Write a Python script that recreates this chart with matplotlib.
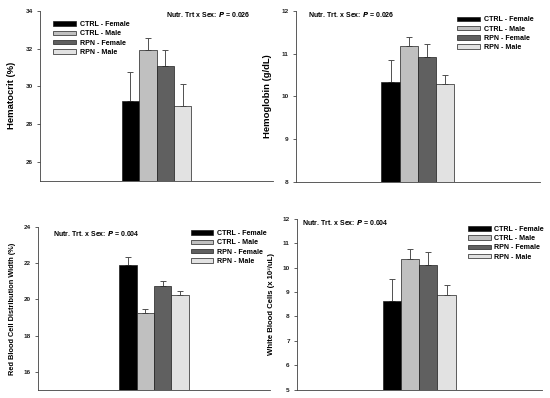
import numpy as np
import matplotlib
matplotlib.use("Agg")
import matplotlib.pyplot as plt
from matplotlib.patches import Patch

plt.rcParams["font.family"] = ["Liberation Sans", "DejaVu Sans"]
plt.rcParams["font.weight"] = "bold"

# groups / legend
groups = ["CTRL - Female", "CTRL - Male", "RPN - Female", "RPN - Male"]
colors = ["#000000", "#c0c0c0", "#606060", "#e2e2e2"]

# means and upper error-bar tops
hct_mean = [29.24, 31.93, 31.10, 28.97]
hct_top = [30.74, 32.57, 31.93, 30.12]

hgb_mean = [10.34, 11.19, 10.93, 10.29]
hgb_top = [10.85, 11.40, 11.22, 10.51]

rdw_mean = [21.90, 19.24, 20.76, 20.26]
rdw_top = [22.38, 19.48, 21.04, 20.45]

wbc_mean = [8.63, 10.33, 10.10, 8.88]
wbc_top = [9.54, 10.74, 10.64, 9.29]

W, H = 550, 398
fig = plt.figure(figsize=(5.5, 3.98), dpi=100)


def px_axes(left, right, top, bottom):
    return fig.add_axes([left / W, 1 - bottom / H, (right - left) / W, (bottom - top) / H])


def panel(ax, mean, top, ylim, yticks, ylabel, ylsize, note, note_xy, leg_xy):
    x = np.arange(len(mean))
    mean = np.array(mean)
    err = np.array(top) - mean
    ax.bar(x, mean - ylim[0], bottom=ylim[0], width=1.0, color=colors,
           edgecolor="#202020", linewidth=0.5, zorder=2)
    ax.errorbar(x, mean, yerr=[np.zeros_like(err), err], fmt="none",
                ecolor="#505050", elinewidth=0.7, capsize=2.2, capthick=0.7, zorder=1)
    ax.set_xlim(-5.2, 8.2)
    ax.set_ylim(*ylim)
    ax.set_yticks(yticks)
    ax.set_xticks([])
    for s in ["top", "right"]:
        ax.spines[s].set_visible(False)
    for s in ["left", "bottom"]:
        ax.spines[s].set_linewidth(0.6)
        ax.spines[s].set_color("#404040")
    ax.tick_params(axis="y", direction="out", length=2, width=0.5, pad=3,
                   labelsize=4.6, colors="#202020")
    ax.set_ylabel(ylabel, fontsize=ylsize, fontweight="bold", labelpad=ylsize)
    ax.text(note_xy[0], note_xy[1], note, transform=ax.transAxes,
            fontsize=5, fontweight="bold", ha="left", va="center")
    handles = [Patch(facecolor=c, edgecolor="#202020", linewidth=0.5) for c in colors]
    ax.legend(handles, groups, loc="upper left", bbox_to_anchor=leg_xy,
              frameon=False, handlelength=3.2, handleheight=0.6,
              handletextpad=0.5, labelspacing=0.32, borderaxespad=0,
              prop={"size": 5.1, "weight": "bold"})


ax1 = px_axes(40, 273, 10.7, 181)
panel(ax1, hct_mean, hct_top, (25, 34), [26, 28, 30, 32, 34], "Hematocrit (%)", 6.8,
      r"Nutr. Trt x Sex: $\bfit{P}$ = 0.026", (0.54, 0.975), (0.045, 0.955))

ax2 = px_axes(295.7, 540, 11, 181.7)
panel(ax2, hgb_mean, hgb_top, (8, 12), [8, 9, 10, 11, 12], "Hemoglobin (g/dL)", 6.8,
      r"Nutr. Trt. x Sex: $\bfit{P}$ = 0.026", (0.05, 0.98), (0.65, 0.985))

ax3 = px_axes(37.7, 270, 227.3, 389.7)
panel(ax3, rdw_mean, rdw_top, (15, 24), [16, 18, 20, 22, 24],
      "Red Blood Cell Distribution Width (%)", 5.3,
      r"Nutr. Trt. x Sex: $\bfit{P}$ = 0.004", (0.068, 0.96), (0.647, 1.0))

ax4 = px_axes(296.7, 541.7, 218.7, 389.7)
panel(ax4, wbc_mean, wbc_top, (5, 12), [5, 6, 7, 8, 9, 10, 11, 12],
      "White Blood Cells (x 10\u00b3/uL)", 5.6,
      r"Nutr. Trt. x Sex: $\bfit{P}$ = 0.004", (0.02, 0.975), (0.688, 0.975))

fig.savefig("out.png", dpi=100)
